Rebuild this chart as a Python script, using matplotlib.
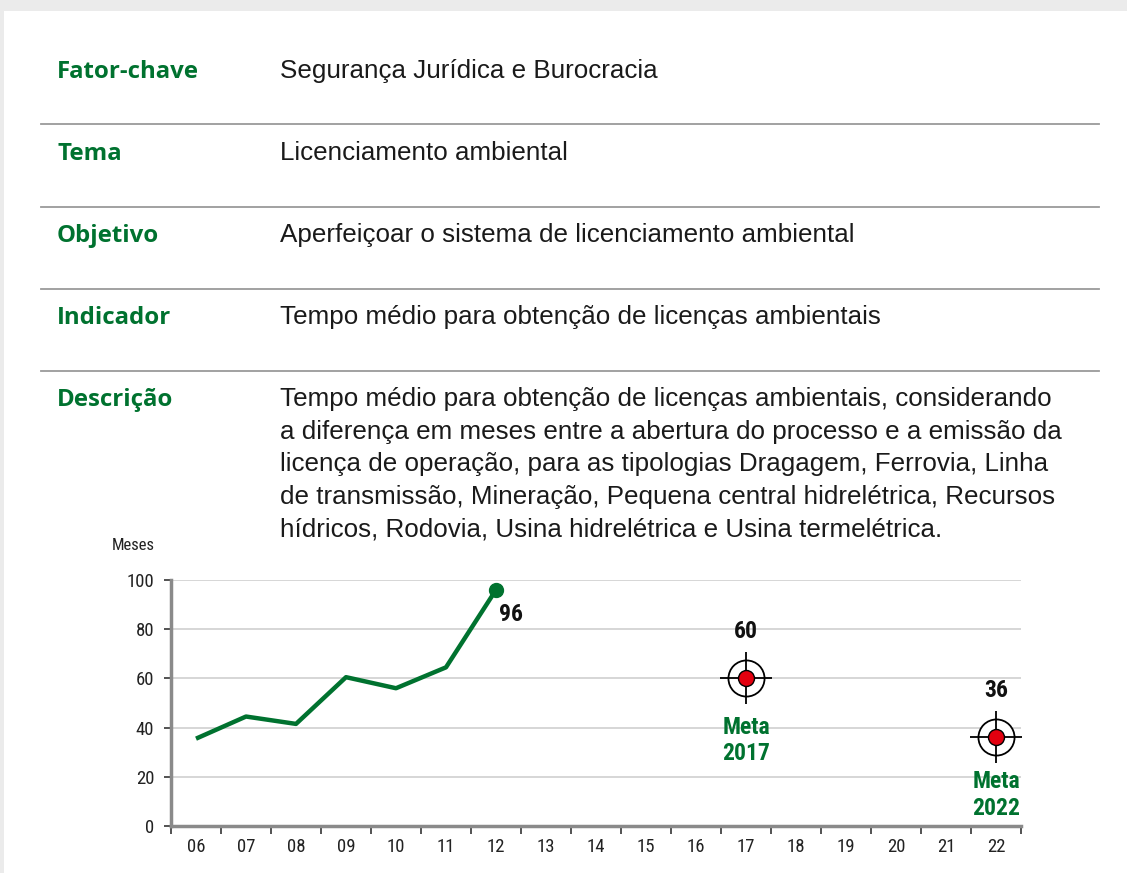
import matplotlib
matplotlib.use("Agg")
import matplotlib.pyplot as plt
from matplotlib.patches import Rectangle
from matplotlib import font_manager

# ---- data ----
years = ["06", "07", "08", "09", "10", "11", "12", "13", "14", "15",
         "16", "17", "18", "19", "20", "21", "22"]
hist_years = ["06", "07", "08", "09", "10", "11", "12"]
hist_values = [35.5, 44.5, 41.5, 60.5, 56, 64.5, 96]
target_years = ["17", "22"]
target_values = [60, 36]
target_labels = ["Meta\n2017", "Meta\n2022"]
y_ticks = [0, 20, 40, 60, 80, 100]

row_keys = ["Fator-chave", "Tema", "Objetivo", "Indicador", "Descrição"]
row_texts = [
    "Segurança Jurídica e Burocracia",
    "Licenciamento ambiental",
    "Aperfeiçoar o sistema de licenciamento ambiental",
    "Tempo médio para obtenção de licenças ambientais",
    "Tempo médio para obtenção de licenças ambientais, considerando\n"
    "a diferença em meses entre a abertura do processo e a emissão da\n"
    "licença de operação, para as tipologias Dragagem, Ferrovia, Linha\n"
    "de transmissão, Mineração, Pequena central hidrelétrica, Recursos\n"
    "hídricos, Rodovia, Usina hidrelétrica e Usina termelétrica.",
]

GREEN = "#00722f"
RED = "#e3000f"
W, H = 1127, 873

fonts = font_manager.fontManager.ttflist
installed = {f.name for f in fonts}


def has_bold(name):
    return any(f.name == name and isinstance(f.weight, int) and f.weight >= 700
               for f in fonts) or any(f.name == name and f.weight == "bold" for f in fonts)


def pick_narrow():
    for name in ["Roboto Condensed", "Liberation Sans Narrow", "Open Sans Condensed",
                 "Noto Sans Condensed", "DejaVu Sans Condensed"]:
        if name in installed:
            return {"family": name}
    for name in ["DejaVu Sans", "Noto Sans", "Open Sans", "Roboto"]:
        if any(f.name == name and f.stretch in ("condensed", "semi-condensed", 375)
               for f in fonts):
            return {"family": name, "fontstretch": "condensed"}
    return {"family": "Liberation Sans"}


NARROW = pick_narrow()
head_font = next((n for n in ["Open Sans", "Noto Sans", "Lato", "DejaVu Sans"] if has_bold(n)),
                 "DejaVu Sans")
body_font = "Liberation Sans"

fig = plt.figure(figsize=(W / 100, H / 100), dpi=100)
fig.patch.set_facecolor("#ebebeb")


def fx(px):
    return px / W


def fy(py):
    return 1 - py / H


# white page
page = Rectangle((fx(4), 0), 1, fy(11), transform=fig.transFigure,
                 facecolor="white", edgecolor="none", zorder=-10)
fig.add_artist(page)

# table rows
row_y = [69, 151, 233, 315, 397]
for key, txt, ry in zip(row_keys, row_texts, row_y):
    fig.text(fx(57), fy(ry + 3), key, fontsize=17.3, fontweight="bold", color=GREEN,
             family=head_font, va="center", ha="left")
    fig.text(fx(280), fy(ry - 10), txt, fontsize=18.7, color="#1a1a1a",
             family=body_font, va="top", ha="left", linespacing=1.45)

for ly in [124, 207, 289, 371]:
    fig.add_artist(plt.Line2D([fx(41), fx(1099)], [fy(ly), fy(ly)],
                              transform=fig.transFigure, color="#9a9a9a", lw=1.3))

# ---- chart ----
ax = fig.add_axes([fx(171), fy(826), fx(1021) - fx(171), fy(580) - fy(826)])
ax.set_facecolor("none")
xpos = {y: i for i, y in enumerate(years)}
ax.set_xlim(-0.5, len(years) - 0.5)
ax.set_ylim(0, 100)

ax.set_yticks(y_ticks)
ax.set_yticklabels([str(v) for v in y_ticks], fontsize=13.5, color="#222", **NARROW)
ax.set_xticks(range(len(years)))
ax.set_xticklabels(years, fontsize=13.5, color="#222", **NARROW)
ax.set_xticks([i - 0.5 for i in range(len(years) + 1)], minor=True)
ax.tick_params(axis="x", which="major", length=0, pad=9)
ax.tick_params(axis="x", which="minor", length=6, width=1.3, color="#444")
ax.tick_params(axis="y", length=5, width=1.3, color="#444", pad=7)

ax.grid(axis="y", color="#cfcfcf", lw=1.2)
ax.set_axisbelow(True)
for s in ["top", "right"]:
    ax.spines[s].set_visible(False)
for s in ["left", "bottom"]:
    ax.spines[s].set_color("#8a8a8a")
    ax.spines[s].set_linewidth(2.5)

hx = [xpos[y] for y in hist_years]
ax.plot(hx, hist_values, color=GREEN, lw=3.2, solid_capstyle="butt", zorder=3, clip_on=False)
ax.plot(hx[-1], hist_values[-1], "o", color=GREEN, ms=10, zorder=4, clip_on=False)
ax.annotate(f"{hist_values[-1]:g}", (hx[-1], hist_values[-1]), xytext=(11, -18),
            textcoords="offset points", fontsize=17, fontweight="bold",
            color="#111", ha="center", va="center", **NARROW)

# the later target sits closer to the axis, so its caption hugs the marker
caption_gap = [-27, -23.5]
for ty, tv, tl, gap in zip(target_years, target_values, target_labels, caption_gap):
    x = xpos[ty]
    ax.plot(x, tv, "o", ms=26, mfc="white", mec="black", mew=1.3, zorder=4, clip_on=False)
    ax.plot(x, tv, "+", ms=38, mec="black", mew=1.3, zorder=5, clip_on=False)
    ax.plot(x, tv, "o", ms=11.5, mfc=RED, mec="black", mew=1.0, zorder=6, clip_on=False)
    ax.annotate(f"{tv:g}", (x, tv), xytext=(0, 34), textcoords="offset points",
                fontsize=17, fontweight="bold", color="#111",
                ha="center", va="center", **NARROW)
    ax.annotate(tl, (x, tv), xytext=(0, gap), textcoords="offset points",
                fontsize=17, fontweight="bold", color=GREEN,
                ha="center", va="top", linespacing=1.2, **NARROW)

fig.text(fx(112), fy(546), "Meses", fontsize=12, color="#222",
         ha="left", va="center", **NARROW)

fig.savefig("out.png", dpi=100, facecolor=fig.get_facecolor())
